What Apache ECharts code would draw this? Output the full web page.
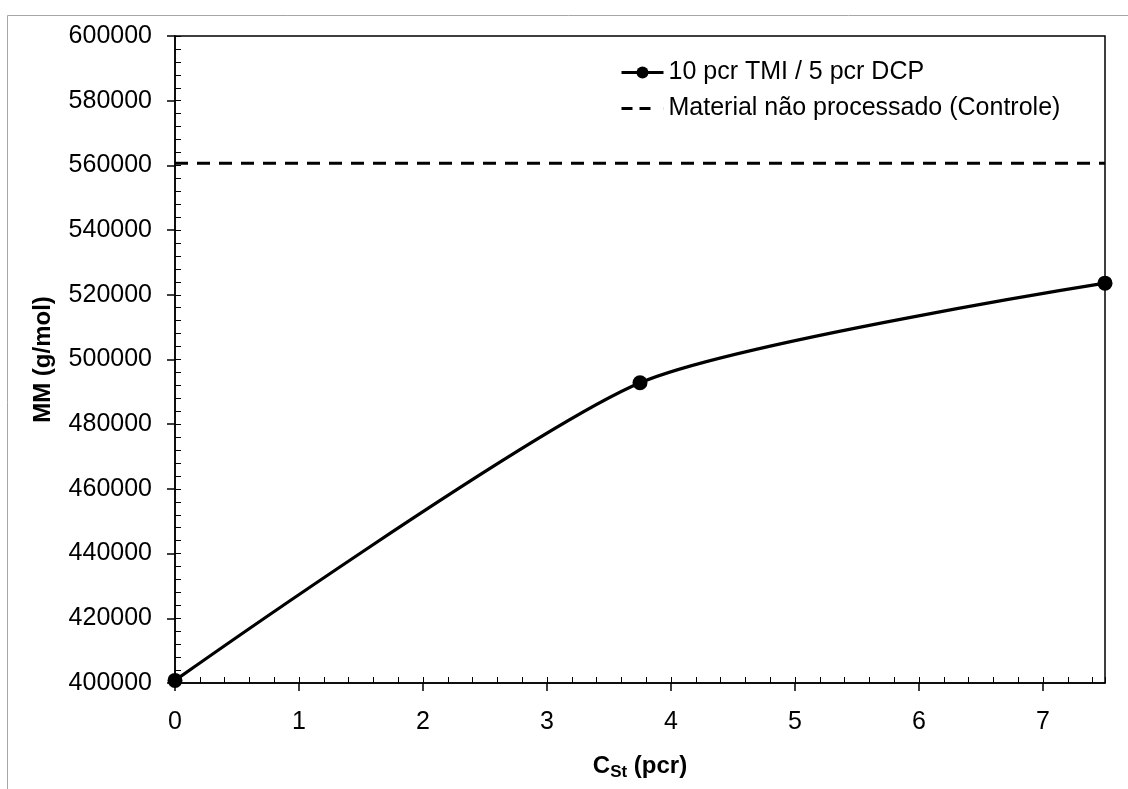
<!DOCTYPE html>
<html>
<head>
<meta charset="utf-8">
<script src="https://cdn.jsdelivr.net/npm/echarts@6/dist/echarts.min.js"></script>
<style>
  html, body { margin: 0; padding: 0; background: #fff; }
  #main { width: 1128px; height: 789px; }
</style>
</head>
<body>
<div id="main"></div>
<script>
// values
const cstValues = [0, 3.75, 7.5];
const mmValues = [400800, 492800, 523600];
const controlX = [0, 7.5];
const controlMM = [560700, 560700];
const xMajorTicks = [0, 1, 2, 3, 4, 5, 6, 7];
const seriesNames = ['10 pcr TMI / 5 pcr DCP', 'Material não processado (Controle)'];

const font = 'Liberation Sans, Arial, sans-serif';
const black = '#000';

const chart = echarts.init(document.getElementById('main'));

const option = {
    animation: false,
    backgroundColor: '#fff',
    graphic: [{
        type: 'rect',
        shape: {x: 7.5, y: 15.5, width: 1200, height: 1000},
        style: {fill: 'none', stroke: '#a6a6a6', lineWidth: 1}
    }],
    grid: {
        left: 175, right: 23, top: 36, bottom: 106,
        show: true, borderColor: black, borderWidth: 1.5,
        containLabel: false,
        outerBoundsMode: 'none'
    },
    legend: {
        orient: 'vertical',
        left: 615, top: 55,
        itemWidth: 42, itemHeight: 15, itemGap: 11,
        lineStyle: {width: 3, color: black},
        textStyle: {fontFamily: font, fontSize: 25, color: black},
        data: [
            {name: seriesNames[0]},
            // dashed legend key without marker
            {name: seriesNames[1], icon: 'path://M0,0H11V3H0Z M18,0H29V3H18Z M41.9,0H42V3H41.9Z'}
        ]
    },
    xAxis: [
        {
            type: 'value', position: 'bottom',
            min: 0, max: 7.5, interval: 1,
            axisLine: {lineStyle: {color: black, width: 1.5}},
            axisTick: {show: true, inside: false, length: 8, customValues: xMajorTicks,
                lineStyle: {color: black, width: 1.5}},
            axisLabel: {customValues: xMajorTicks, margin: 27,
                fontFamily: font, fontSize: 25, color: black},
            splitLine: {show: false},
            name: '{b|C}{s|St}{b| (pcr)}',
            nameLocation: 'middle', nameGap: 69,
            nameTextStyle: {
                rich: {
                    b: {fontFamily: font, fontSize: 24, fontWeight: 'bold', color: black},
                    s: {fontFamily: font, fontSize: 17, fontWeight: 'bold', color: black,
                        padding: [12, 0, 0, 0]}
                }
            }
        },
        {
            type: 'value', position: 'bottom',
            min: 0, max: 7.5, interval: 0.2,
            axisLine: {show: false},
            axisTick: {show: true, inside: true, length: 6, lineStyle: {color: black, width: 1}},
            axisLabel: {show: false},
            splitLine: {show: false}
        }
    ],
    yAxis: [
        {
            type: 'value', position: 'left',
            min: 400000, max: 600000, interval: 20000,
            axisLine: {show: true, lineStyle: {color: black, width: 1.5}},
            axisTick: {show: true, inside: false, length: 8, lineStyle: {color: black, width: 1.5}},
            axisLabel: {margin: 23, fontFamily: font, fontSize: 25, color: black,
                formatter: v => String(v)},
            splitLine: {show: false},
            name: 'MM (g/mol)',
            nameLocation: 'middle', nameGap: 120, nameRotate: 90,
            nameTextStyle: {fontFamily: font, fontSize: 24, fontWeight: 'bold', color: black}
        },
        {
            type: 'value', position: 'left',
            min: 400000, max: 600000, interval: 4000,
            axisLine: {show: false},
            axisTick: {show: true, inside: true, length: 6, lineStyle: {color: black, width: 1}},
            axisLabel: {show: false},
            splitLine: {show: false}
        }
    ],
    series: [
        {
            name: seriesNames[0],
            type: 'line',
            xAxisIndex: 0, yAxisIndex: 0,
            smooth: 0.22,
            symbol: 'circle', symbolSize: 15,
            itemStyle: {color: black},
            lineStyle: {color: black, width: 3.2},
            data: cstValues.map((x, i) => [x, mmValues[i]]),
            z: 5
        },
        {
            name: seriesNames[1],
            type: 'line',
            xAxisIndex: 0, yAxisIndex: 0,
            symbol: 'none',
            itemStyle: {color: black},
            lineStyle: {color: black, width: 3, type: [13, 9]},
            data: controlX.map((x, i) => [x, controlMM[i]])
        }
    ]
};

chart.setOption(option);
</script>
</body>
</html>
